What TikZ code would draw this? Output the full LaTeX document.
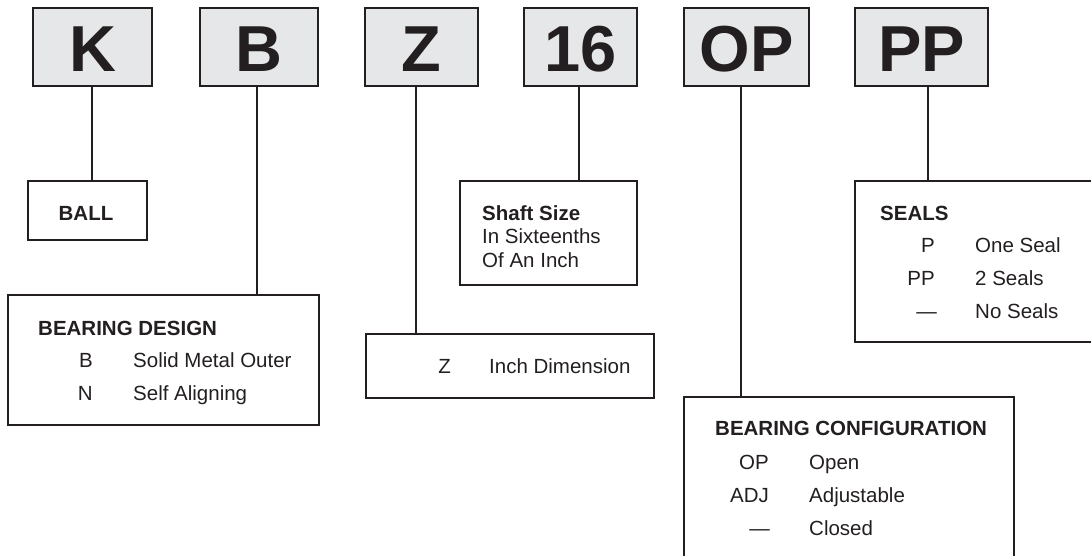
\documentclass[tikz,border=0pt]{standalone}
\usepackage{fontspec}
\setmainfont{Liberation Sans}
\definecolor{ink}{HTML}{231F20}
\definecolor{boxgray}{HTML}{E6E7E8}
\begin{document}
\begin{tikzpicture}[x=1pt,y=-1pt,
  topbox/.style={draw=ink, line width=1.8pt, fill=boxgray, inner sep=0pt,
    font=\fontsize{65}{70}\selectfont\bfseries, text=ink},
  dbox/.style={draw=ink, line width=1.8pt, inner sep=0pt},
  txt/.style={inner sep=0pt, text=ink, font=\fontsize{20.5}{24}\selectfont},
  ttl/.style={txt, font=\fontsize{20.5}{24}\selectfont\bfseries},
  conn/.style={draw=ink, line width=1.8pt}]
\useasboundingbox (0,0) rectangle (1091,555);
\clip (0,0) rectangle (1091,555);
% top boxes
\node[topbox, minimum width=119pt, minimum height=78pt] (bK) at (92.5,47) {};
\node[topbox, minimum width=118pt, minimum height=78pt] (bB) at (259,47) {};
\node[topbox, minimum width=113pt, minimum height=78pt] (bZ) at (421.5,47) {};
\node[topbox, minimum width=113pt, minimum height=78pt] (b16) at (580.5,47) {};
\node[topbox, minimum width=125pt, minimum height=78pt] (bOP) at (746.5,47) {};
\node[topbox, minimum width=133pt, minimum height=78pt] (bPP) at (921.5,47) {};
\node[inner sep=0pt, anchor=base, font=\fontsize{65}{70}\selectfont\bfseries, text=ink] (lK) at (92.5,71) {K};
\node[inner sep=0pt, anchor=base, font=\fontsize{65}{70}\selectfont\bfseries, text=ink] (lB) at (259,71) {B};
\node[inner sep=0pt, anchor=base, font=\fontsize{65}{70}\selectfont\bfseries, text=ink] (lZ) at (421.5,71) {Z};
\node[inner sep=0pt, anchor=base, font=\fontsize{65}{70}\selectfont\bfseries, text=ink] (l16) at (580.5,71) {16};
\node[inner sep=0pt, anchor=base, font=\fontsize{65}{70}\selectfont\bfseries, text=ink] (lOP) at (746.5,71) {OP};
\node[inner sep=0pt, anchor=base, font=\fontsize{65}{70}\selectfont\bfseries, text=ink] (lPP) at (921.5,71) {PP};
% detail boxes
\node[dbox, minimum width=119pt, minimum height=59pt] (ball) at (87.5,210.5) {};
\node[dbox, minimum width=311pt, minimum height=130pt] (design) at (163.5,360) {};
\node[dbox, minimum width=177pt, minimum height=104pt] (shaft) at (548.5,233) {};
\node[dbox, minimum width=288pt, minimum height=64pt] (zdim) at (510,366) {};
\node[dbox, minimum width=330pt, minimum height=180pt] (config) at (849,487) {};
\node[dbox, minimum width=260pt, minimum height=161pt] (seals) at (985,261.5) {};
% connector positions
\coordinate (xK) at (92,0);
\coordinate (xB) at (257,0);
\coordinate (xZ) at (416,0);
\coordinate (x16) at (579,0);
\coordinate (xOP) at (741,0);
\coordinate (xPP) at (928,0);
\draw[conn] (bK.south -| xK) -- (ball.north -| xK);
\draw[conn] (bB.south -| xB) -- (design.north -| xB);
\draw[conn] (bZ.south -| xZ) -- (zdim.north -| xZ);
\draw[conn] (b16.south -| x16) -- (shaft.north -| x16);
\draw[conn] (bOP.south -| xOP) -- (config.north -| xOP);
\draw[conn] (bPP.south -| xPP) -- (seals.north -| xPP);
% BALL
\node[ttl, anchor=base] (tball) at (86,220) {BALL};
% bearing design
\node[ttl, anchor=base west] (tdes) at (38,335) {BEARING DESIGN};
\node[txt, anchor=base east] (cdB) at (93,367) {B};
\node[txt, anchor=base west] (ddB) at (133,367) {Solid Metal Outer};
\node[txt, anchor=base east] (cdN) at (93,400) {N};
\node[txt, anchor=base west] (ddN) at (133,400) {Self Aligning};
% Z
\node[txt, anchor=base east] (czZ) at (451,373) {Z};
\node[txt, anchor=base west] (dzZ) at (489,373) {Inch Dimension};
% shaft size
\node[ttl, anchor=base west] (tsh) at (482,220) {Shaft Size};
\node[txt, anchor=base west] (sh1) at (482,243) {In Sixteenths};
\node[txt, anchor=base west] (sh2) at (482,267) {Of An Inch};
% configuration
\node[ttl, anchor=base west] (tcf) at (715,435) {BEARING CONFIGURATION};
\node[txt, anchor=base east] (cc1) at (769,469) {OP};
\node[txt, anchor=base west] (dc1) at (809,469) {Open};
\node[txt, anchor=base east] (cc2) at (769,502) {ADJ};
\node[txt, anchor=base west] (dc2) at (809,502) {Adjustable};
\node[txt, anchor=base east] (cc3) at (770,535) {—};
\node[txt, anchor=base west] (dc3) at (809,535) {Closed};
% seals
\node[ttl, anchor=base west] (tse) at (880,220) {SEALS};
\node[txt, anchor=base east] (cs1) at (935,252) {P};
\node[txt, anchor=base west] (ds1) at (975,252) {One Seal};
\node[txt, anchor=base east] (cs2) at (935,285) {PP};
\node[txt, anchor=base west] (ds2) at (975,285) {2 Seals};
\node[txt, anchor=base east] (cs3) at (937,318) {—};
\node[txt, anchor=base west] (ds3) at (975,318) {No Seals};
\end{tikzpicture}
\end{document}
